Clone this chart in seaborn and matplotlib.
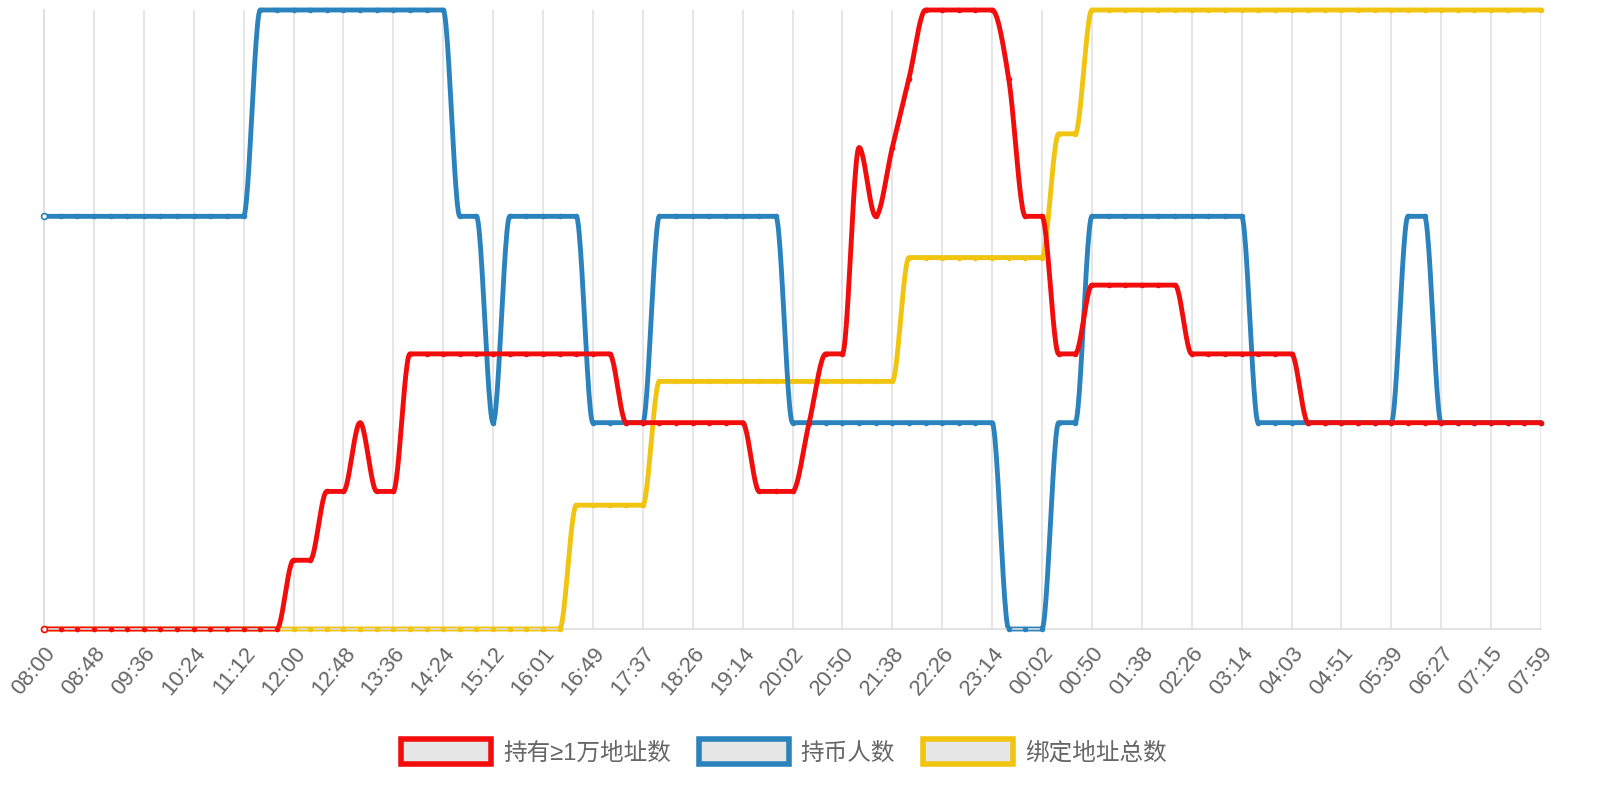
import numpy as np
import matplotlib
matplotlib.use("Agg")
import matplotlib.pyplot as plt
import seaborn as sns

sns.set_theme(style="white")
plt.rcParams['font.family'] = ['Liberation Sans', 'Noto Sans CJK SC', 'DejaVu Sans']

n_points = 91
tick_labels = ["08:00", "08:48", "09:36", "10:24", "11:12", "12:00", "12:48", "13:36", "14:24", "15:12",
               "16:01", "16:49", "17:37", "18:26", "19:14", "20:02", "20:50", "21:38", "22:26", "23:14",
               "00:02", "00:50", "01:38", "02:26", "03:14", "04:03", "04:51", "05:39", "06:27", "07:15", "07:59"]

series_names = ["持有≥1万地址数", "持币人数", "绑定地址总数"]
colors = ["#f20c0c", "#2b83bd", "#f1c40f"]

red = ([0] * 15 + [1, 1, 2, 2, 3, 2, 2] + [4] * 13 + [3] * 8 + [2, 2, 2, 3, 4, 4, 7, 6, 7, 8]
       + [9] * 5 + [8, 6, 6, 4, 4] + [5] * 6 + [4] * 7 + [3] * 15)
blue = ([2] * 13 + [3] * 12 + [2, 2, 1] + [2] * 5 + [1] * 4 + [2] * 8 + [1] * 13 + [0, 0, 0, 1, 1]
        + [2] * 10 + [1] * 9 + [2, 2] + [1] * 7)
yellow = [0] * 32 + [1] * 5 + [2] * 15 + [3] * 9 + [4, 4] + [5] * 28
maxes = [9, 3, 5]

fig = plt.figure(figsize=(16, 8), dpi=100)
ax = fig.add_axes([44 / 1600, 1 - 629 / 800, 1497 / 1600, 619 / 800])
ax.set_xlim(0, 90)
ax.set_ylim(0, 1)

def monotone(xs, ys, steps=24):
    x = np.asarray(xs, float); y = np.asarray(ys, float)
    n = len(x)
    d = np.diff(y) / np.diff(x)
    m = np.zeros(n)
    m[0] = d[0]; m[-1] = d[-1]
    for k in range(1, n - 1):
        m[k] = 0 if d[k - 1] * d[k] <= 0 else (d[k - 1] + d[k]) / 2
    for k in range(n - 1):
        if d[k] == 0:
            m[k] = m[k + 1] = 0
            continue
        a = m[k] / d[k]; b = m[k + 1] / d[k]
        s = a * a + b * b
        if s > 9:
            t = 3 / np.sqrt(s)
            m[k] = t * a * d[k]; m[k + 1] = t * b * d[k]
    X, Y = [], []
    tt = np.linspace(0, 1, steps, endpoint=False)
    for k in range(n - 1):
        h = x[k + 1] - x[k]
        h00 = 2 * tt**3 - 3 * tt**2 + 1; h10 = tt**3 - 2 * tt**2 + tt
        h01 = -2 * tt**3 + 3 * tt**2; h11 = tt**3 - tt**2
        X.extend(x[k] + tt * h)
        Y.extend(h00 * y[k] + h10 * h * m[k] + h01 * y[k + 1] + h11 * h * m[k + 1])
    X.append(x[-1]); Y.append(y[-1])
    return np.array(X), np.array(Y)

xs = np.arange(n_points)
data = [yellow, blue, red]
cols = [colors[2], colors[1], colors[0]]
mx = [maxes[2], maxes[1], maxes[0]]
for d, c, m in zip(data, cols, mx):
    yn = np.array(d) / m
    sxp, syp = monotone(xs, yn)
    ax.plot(sxp, syp, color=c, lw=3.5, clip_on=False, solid_capstyle='round')
    sns.scatterplot(x=xs[1:], y=yn[1:], ax=ax, color=c, s=16, linewidth=0, clip_on=False, legend=False, zorder=3)
    ax.scatter([0], [yn[0]], s=18, facecolor='white', edgecolor=c, linewidth=1.2, clip_on=False, zorder=4)

ax.set_xticks(range(0, 91, 3))
ax.set_xticklabels(tick_labels, rotation=50, ha='right', rotation_mode='anchor', color='#666666', fontsize=16)
ax.set_yticks([])
ax.tick_params(axis='x', length=6, color='#dddddd', pad=4)
ax.grid(axis='x', color='#e2e2e2', lw=1.2)
for s in ['top', 'right']:
    ax.spines[s].set_visible(False)
for s in ['left', 'bottom']:
    ax.spines[s].set_color('#dddddd')
    ax.spines[s].set_linewidth(1.2)

from matplotlib.patches import Patch
handles = [Patch(facecolor='#e6e6e6', edgecolor=c, linewidth=4) for c in colors]
fig.legend(handles, series_names, loc='center', bbox_to_anchor=(0.49, 1 - 752 / 800), ncol=3,
           frameon=False, fontsize=17, handlelength=3.8, handleheight=1.2, columnspacing=1.2,
           handletextpad=0.5, labelcolor='#666666')

fig.savefig("out.png", dpi=100)
